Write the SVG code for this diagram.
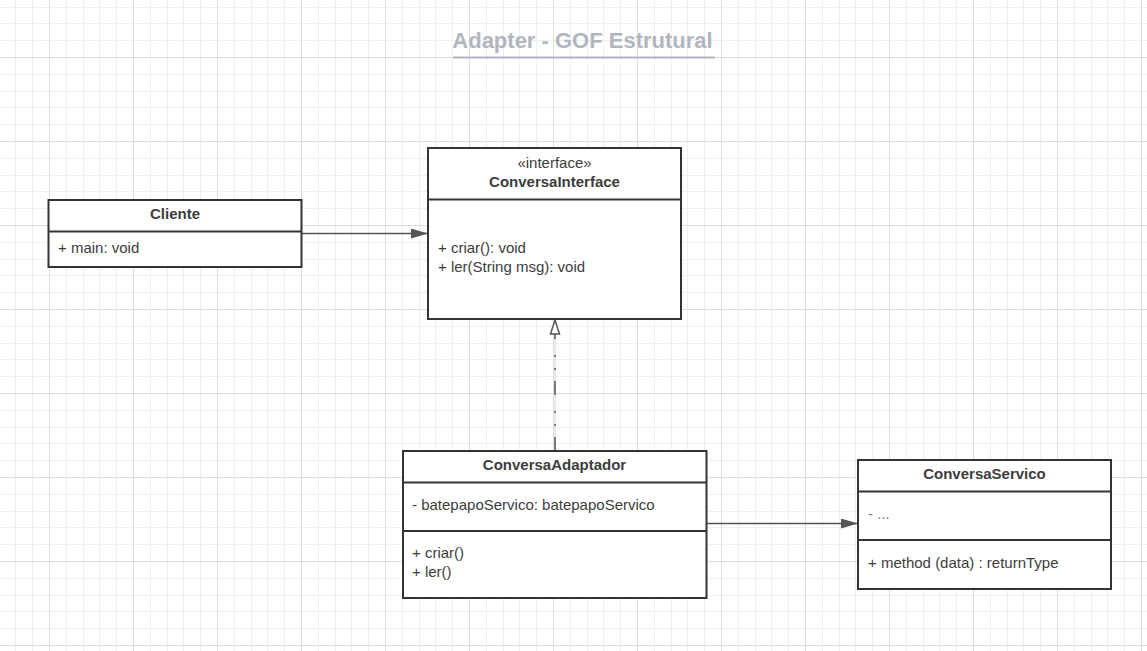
<svg xmlns="http://www.w3.org/2000/svg" width="1147" height="651" viewBox="0 0 1147 651">
  <defs>
    <pattern id="grid" patternUnits="userSpaceOnUse" x="49" y="57" width="84" height="84">
      <g shape-rendering="crispEdges">
        <rect x="16.8" y="0" width="1" height="84" fill="#efefef"/>
        <rect x="33.6" y="0" width="1" height="84" fill="#efefef"/>
        <rect x="50.4" y="0" width="1" height="84" fill="#efefef"/>
        <rect x="67.2" y="0" width="1" height="84" fill="#efefef"/>
        <rect x="0" y="16.8" width="84" height="1" fill="#efefef"/>
        <rect x="0" y="33.6" width="84" height="1" fill="#efefef"/>
        <rect x="0" y="50.4" width="84" height="1" fill="#efefef"/>
        <rect x="0" y="67.2" width="84" height="1" fill="#efefef"/>
        <rect x="0" y="0" width="1" height="84" fill="#dddddd"/>
        <rect x="0" y="0" width="84" height="1" fill="#dddddd"/>
      </g>
    </pattern>
    <marker id="filled" viewBox="0 0 17 10" refX="17" refY="5" markerWidth="17" markerHeight="10" markerUnits="userSpaceOnUse" orient="auto">
      <path d="M0,0 L17,5 L0,10 Z" fill="#555555"/>
    </marker>
    <marker id="hollow" viewBox="0 0 16 12" refX="15" refY="6" markerWidth="16" markerHeight="12" markerUnits="userSpaceOnUse" orient="auto">
      <path d="M1,1.5 L15,6 L1,10.5 Z" fill="#ffffff" stroke="#555555" stroke-width="1.5"/>
    </marker>
  </defs>
  <style>
    .box { fill: #ffffff; stroke: #333333; stroke-width: 2; }
    .div { stroke: #333333; stroke-width: 2; }
    text { font-family: "Liberation Sans", Arial, sans-serif; font-size: 15px; fill: #3d3d3d; }
    .b { font-weight: bold; }
    .c { text-anchor: middle; }
    .conn { fill: none; stroke: #555555; stroke-width: 1.5; }
  </style>
  <rect x="0" y="0" width="1147" height="651" fill="#ffffff"/>
  <rect x="0" y="0" width="1147" height="651" fill="url(#grid)"/>

  <g id="title">
    <text x="582.5" y="47.5" class="b c" style="font-size:22px;fill:#b1b6be">Adapter - GOF Estrutural</text>
    <line x1="453" y1="57.5" x2="715" y2="57.5" stroke="#b1b6be" stroke-width="2"/>
  </g>

  <g id="connectors">
    <line class="conn" x1="302" y1="233.5" x2="428" y2="233.5" marker-end="url(#filled)"/>
    <line class="conn" x1="707" y1="523.5" x2="858" y2="523.5" marker-end="url(#filled)"/>
    <line x1="555" y1="451" x2="555" y2="335" stroke="#d6d6d6" stroke-width="1"/>
    <line class="conn" x1="555" y1="451" x2="555" y2="320" stroke-dasharray="14 11 2 11 2 16" marker-end="url(#hollow)"/>
  </g>

  <g id="cliente">
    <rect class="box" x="48.5" y="200" width="253" height="67"/>
    <line class="div" x1="48.5" y1="231.5" x2="301.5" y2="231.5"/>
    <text x="175" y="219" class="b c">Cliente</text>
    <text x="58" y="253">+ main: void</text>
  </g>

  <g id="conversaInterface">
    <rect class="box" x="428" y="148" width="253" height="171"/>
    <line class="div" x1="428" y1="199.5" x2="681" y2="199.5"/>
    <text x="554.5" y="167.5" class="c">«interface»</text>
    <text x="554.5" y="186.5" class="b c">ConversaInterface</text>
    <text x="438" y="253">+ criar(): void</text>
    <text x="438" y="271.5">+ ler(String msg): void</text>
  </g>

  <g id="conversaAdaptador">
    <rect class="box" x="403" y="451" width="303.5" height="147"/>
    <line class="div" x1="403" y1="482.5" x2="706.5" y2="482.5"/>
    <line class="div" x1="403" y1="531" x2="706.5" y2="531"/>
    <text x="554.5" y="470" class="b c">ConversaAdaptador</text>
    <text x="412" y="510">- batepapoServico: batepapoServico</text>
    <text x="412" y="558">+ criar()</text>
    <text x="412" y="576.5">+ ler()</text>
  </g>

  <g id="conversaServico">
    <rect class="box" x="858" y="460" width="253" height="129"/>
    <line class="div" x1="858" y1="491.5" x2="1111" y2="491.5"/>
    <line class="div" x1="858" y1="540" x2="1111" y2="540"/>
    <text x="984.5" y="478.5" class="b c">ConversaServico</text>
    <text x="868" y="519" style="fill:#7a7a7a">- ...</text>
    <text x="868" y="568">+ method (data) : returnType</text>
  </g>
</svg>
